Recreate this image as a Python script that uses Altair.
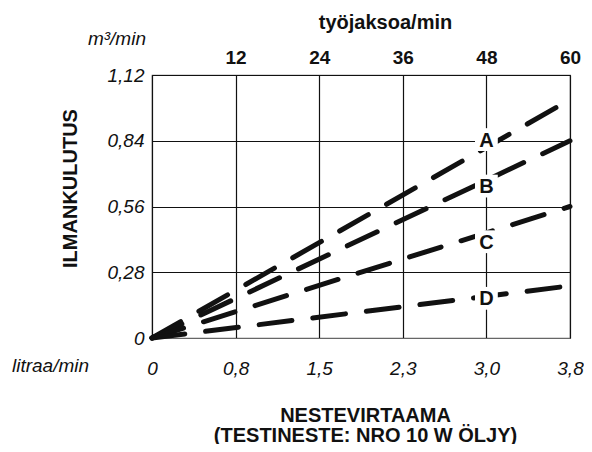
import altair as alt
import pandas as pd

# ---- data ----
series_names = ["A", "B", "C", "D"]
series_end_values = [1.015, 0.84, 0.56, 0.222]   # m3/min at 60 cycles/min
cycle_start = 0
cycle_end = 60
label_cycles = [48, 48, 48, 48]
label_values = [0.845, 0.647, 0.41, 0.169]
top_ticks = [12, 24, 36, 48, 60]
bottom_ticks = [0, 12, 24, 36, 48, 60]
bottom_tick_labels = ["0", "0,8", "1,5", "2,3", "3,0", "3,8"]
y_ticks = [0, 0.28, 0.56, 0.84, 1.12]
y_tick_labels = ["0", "0,28", "0,56", "0,84", "1,12"]
unit_y_text = ["m³/min"]
unit_x_text = ["litraa/min"]
y_title = "ILMANKULUTUS"
top_title = "työjaksoa/min"
bottom_title = ["NESTEVIRTAAMA", "(TESTINESTE: NRO 10 W ÖLJY)"]

rows = []
for name, end in zip(series_names, series_end_values):
    rows.append({"series": name, "x": cycle_start, "y": 0.0})
    rows.append({"series": name, "x": cycle_end, "y": end})
lines_df = pd.DataFrame(rows)
labels_df = pd.DataFrame({"series": series_names, "x": label_cycles, "y": label_values})

FONT = "Liberation Sans"
INK = "#111111"

W, H = 418, 263


def js_list(v):
    return "[" + ",".join(("'" + s + "'") if isinstance(s, str) else str(s) for s in v) + "]"


bottom_expr = f"{js_list(bottom_tick_labels)}[indexof({js_list(bottom_ticks)}, datum.value)]"
y_expr = f"{js_list(y_tick_labels)}[indexof({js_list(y_ticks)}, datum.value)]"

xs = alt.Scale(domain=[0, 60], nice=False)
ys = alt.Scale(domain=[0, 1.12], nice=False)

bottom_axis = alt.Axis(
    orient="bottom", values=bottom_ticks, labelExpr=bottom_expr, grid=False,
    ticks=False, tickSize=0, labelPadding=21, labelFlush=False, labelOverlap=False,
    labelFont=FONT, labelFontSize=19, labelFontStyle="italic", labelColor=INK,
    domainColor="#666666", domainWidth=1.2,
    title=bottom_title, titleFont=FONT, titleFontSize=20, titleFontWeight="bold",
    titleColor=INK, titleX=213, titleY=83, titleAlign="center",
    titleBaseline="alphabetic", titleLineHeight=20,
)
top_axis = alt.Axis(
    orient="top", values=top_ticks, grid=True, gridColor=INK, gridWidth=1.2,
    ticks=False, tickSize=0, labelPadding=8, labelFlush=False, labelOverlap=False,
    labelFont=FONT, labelFontSize=19, labelFontWeight="bold", labelColor=INK,
    domainColor=INK, domainWidth=1.2,
    title=top_title, titleFont=FONT, titleFontSize=20, titleFontWeight="bold",
    titleColor=INK, titleX=233, titleY=-47, titleAlign="center",
    titleBaseline="alphabetic",
)
left_axis = alt.Axis(
    values=y_ticks, labelExpr=y_expr, grid=True, gridColor=INK, gridWidth=1.2,
    ticks=False, tickSize=0, labelPadding=8, labelFlush=False, labelOverlap=False,
    labelFont=FONT, labelFontSize=19, labelFontStyle="italic", labelColor=INK,
    domainColor=INK, domainWidth=1.2,
    title=y_title, titleFont=FONT, titleFontSize=20, titleFontWeight="bold",
    titleColor=INK, titleX=-82, titleY=113, titleAngle=270, titleAlign="center",
    titleBaseline="middle",
)

lines = alt.Chart(lines_df).mark_line(
    color=INK, strokeWidth=5, strokeDash=[33, 21], strokeCap="round"
).encode(
    x=alt.X("x:Q", scale=xs, axis=bottom_axis),
    y=alt.Y("y:Q", scale=ys, axis=left_axis),
    detail="series:N",
)

squares = alt.Chart(labels_df).mark_point(
    shape="square", filled=True, color="white", size=520, opacity=1
).encode(
    x=alt.X("x:Q", scale=xs, axis=top_axis),
    y=alt.Y("y:Q", scale=ys),
)

texts = alt.Chart(labels_df).mark_text(
    font=FONT, fontSize=20, fontWeight="bold", color=INK, baseline="middle", dy=1
).encode(
    x=alt.X("x:Q", scale=xs, axis=None),
    y=alt.Y("y:Q", scale=ys),
    text="series:N",
)

unit_y = alt.Chart(pd.DataFrame({"t": unit_y_text})).mark_text(
    font=FONT, fontSize=19, fontStyle="italic", color=INK, align="right", baseline="middle"
).encode(x=alt.value(-6), y=alt.value(-36), text="t:N")

unit_x = alt.Chart(pd.DataFrame({"t": unit_x_text})).mark_text(
    font=FONT, fontSize=19, fontStyle="italic", color=INK, align="left", baseline="middle"
).encode(x=alt.value(-140), y=alt.value(H + 28), text="t:N")

chart = alt.layer(lines, squares, texts, unit_y, unit_x).resolve_axis(
    x="independent"
).properties(
    width=W, height=H,
    autosize=alt.AutoSizeParams(type="none"),
    padding={"left": 144, "top": 67, "right": 576 - 144 - W, "bottom": 436 - 67 - H},
    background="white",
).configure_view(stroke="#666666", strokeWidth=1.2)

chart.save("out.html", embed_options={"renderer": "svg", "actions": False})
